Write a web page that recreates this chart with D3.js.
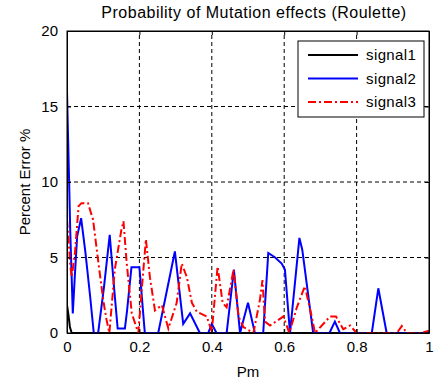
<!DOCTYPE html>
<html>
<head>
<meta charset="utf-8">
<script src="https://cdn.jsdelivr.net/npm/d3@7"></script>
<style>
	body { margin: 0; background: #fff; }
	text { font-family: "Liberation Sans", Arial, sans-serif; }
</style>
</head>
<body>
<div id="chart-area"></div>
<script>
// values
let xTicks = [0, 0.2, 0.4, 0.6, 0.8, 1];
let xTickLabels = ["0", "0.2", "0.4", "0.6", "0.8", "1"];
let yTicks = [0, 5, 10, 15, 20];
let seriesNames = ["signal1", "signal2", "signal3"];

let signal1Pm = [0, 0.004, 0.008, 0.013, 1];
let signal1Err = [1.85, 1.2, 0.4, 0, 0];

let signal2Pm = [0, 0.003, 0.006, 0.009, 0.012, 0.016, 0.021, 0.028, 0.039, 0.051,
	0.064, 0.074, 0.086, 0.102, 0.118, 0.13, 0.14, 0.16, 0.166, 0.178,
	0.2, 0.215, 0.252, 0.298, 0.321, 0.34, 0.367, 0.39, 0.40, 0.413,
	0.441, 0.461, 0.478, 0.50, 0.519, 0.542, 0.556, 0.575, 0.593, 0.602,
	0.616, 0.642, 0.65, 0.68, 0.725, 0.74, 0.754, 0.842, 0.86, 0.883, 1];
let signal2Err = [16, 12.9, 9.9, 6.7, 4.4, 1.3, 3.5, 6.4, 7.6, 5.3,
	2.4, 0, 0, 3, 6.5, 3, 0.3, 0.3, 1.5, 4.35,
	4.35, 0, 0, 5.4, 0.6, 1.3, 0, 0, 0.6, 0,
	0, 4.2, 0, 2.0, 0, 0, 5.3, 5.0, 4.6, 4.2,
	0, 6.3, 5.5, 0, 0, 0.75, 0, 0, 2.96, 0, 0];

let signal3Pm = [0, 0.004, 0.009, 0.013, 0.022, 0.032, 0.04, 0.058, 0.072, 0.086,
	0.1, 0.109, 0.117, 0.132, 0.15, 0.156, 0.165, 0.179, 0.197, 0.211,
	0.218, 0.229, 0.243, 0.262, 0.28, 0.303, 0.317, 0.331, 0.345, 0.359,
	0.386, 0.40, 0.416, 0.43, 0.441, 0.46, 0.474, 0.487, 0.515, 0.533,
	0.54, 0.547, 0.561, 0.598, 0.614, 0.635, 0.657, 0.676, 0.685, 0.727,
	0.743, 0.763, 0.782, 0.80, 0.911, 0.925, 0.939, 0.98, 1];
let signal3Err = [7.5, 6.3, 4.5, 3.7, 5.3, 8.4, 8.6, 8.6, 7.5, 4.8,
	2.2, 0.9, 0, 4.2, 6.8, 7.4, 4.6, 1.3, 0, 4.2,
	6.2, 3.7, 1.5, 1.85, 0.3, 2, 4.6, 3.7, 2.0, 1.4,
	1.1, 0.1, 4.4, 2.0, 1.7, 4.2, 1.1, 0.4, 0, 2.2,
	3.5, 0.75, 0.5, 1.1, 0, 1.7, 3.1, 1.1, 0, 1.1,
	1.1, 0.25, 0.5, 0, 0, 0.46, 0, 0, 0.15];

// SVG Size
let width = 435,
	height = 381;
let margin = {left: 67, right: 6, top: 31, bottom: 48};

let svg = d3.select("#chart-area")
	.append("svg")
	.attr("width", width)
	.attr("height", height);

let x = d3.scaleLinear().domain([0, 1]).range([margin.left, width - margin.right]);
let y = d3.scaleLinear().domain([0, 20]).range([height - margin.bottom, margin.top]);

let series = [
	{name: seriesNames[0], pm: signal1Pm, err: signal1Err, color: "#000000", dash: null},
	{name: seriesNames[1], pm: signal2Pm, err: signal2Err, color: "#0000ff", dash: null},
	{name: seriesNames[2], pm: signal3Pm, err: signal3Err, color: "#ff0000", dash: "8,3,2,3"}
];

// grid (dotted)
svg.append("g")
	.selectAll("line")
	.data(xTicks.slice(1, -1))
	.enter()
	.append("line")
	.attr("x1", d => x(d)).attr("x2", d => x(d))
	.attr("y1", y(0)).attr("y2", y(20))
	.attr("stroke", "black")
	.attr("stroke-dasharray", "4,3");
svg.append("g")
	.selectAll("line")
	.data(yTicks.slice(1, -1))
	.enter()
	.append("line")
	.attr("x1", x(0)).attr("x2", x(1))
	.attr("y1", d => y(d)).attr("y2", d => y(d))
	.attr("stroke", "black")
	.attr("stroke-dasharray", "4,3");

svg.append("clipPath")
	.attr("id", "plot-clip")
	.append("rect")
	.attr("x", x(0)).attr("y", y(20) - 2)
	.attr("width", x(1) - x(0)).attr("height", y(0) - y(20) + 2);

let line = d3.line()
	.x(d => x(d[0]))
	.y(d => y(d[1]));

svg.append("g")
	.attr("clip-path", "url(#plot-clip)")
	.selectAll("path")
	.data(series)
	.enter()
	.append("path")
	.attr("d", s => line(s.pm.map((p, i) => [p, s.err[i]])))
	.attr("fill", "none")
	.attr("stroke", s => s.color)
	.attr("stroke-width", 2)
	.attr("stroke-dasharray", s => s.dash);

// axes, ticks inside like matlab
let xAxis = d3.axisBottom(x).tickValues(xTicks).tickFormat((d, i) => xTickLabels[i])
	.tickSizeInner(-4).tickSizeOuter(0).tickPadding(8);
let yAxis = d3.axisLeft(y).tickValues(yTicks).tickSizeInner(-4).tickSizeOuter(0).tickPadding(9);

svg.append("g")
	.attr("class", "axis x-axis")
	.attr("transform", "translate(0," + y(0) + ")")
	.call(xAxis);
svg.append("g")
	.attr("class", "axis y-axis")
	.attr("transform", "translate(" + x(0) + ",0)")
	.call(yAxis);
svg.append("g")
	.attr("transform", "translate(0," + y(20) + ")")
	.call(d3.axisTop(x).tickValues(xTicks).tickFormat("").tickSizeInner(-4).tickSizeOuter(0));
svg.append("g")
	.attr("transform", "translate(" + x(1) + ",0)")
	.call(d3.axisRight(y).tickValues(yTicks).tickFormat("").tickSizeInner(-4).tickSizeOuter(0));

svg.selectAll(".axis text")
	.attr("font-size", 15)
	.attr("font-family", "Liberation Sans, Arial, sans-serif")
	.attr("fill", "black");
svg.selectAll(".domain, .tick line").attr("stroke", "black");

// box
svg.append("rect")
	.attr("x", x(0)).attr("y", y(20))
	.attr("width", x(1) - x(0)).attr("height", y(0) - y(20))
	.attr("fill", "none")
	.attr("stroke", "black");

// title and labels
svg.append("text")
	.attr("x", (x(0) + x(1)) / 2 + 6)
	.attr("y", 18)
	.attr("text-anchor", "middle")
	.attr("font-size", 16)
	.attr("letter-spacing", 0.5)
	.text("Probability of Mutation effects (Roulette)");
svg.append("text")
	.attr("x", (x(0) + x(1)) / 2)
	.attr("y", 377)
	.attr("text-anchor", "middle")
	.attr("font-size", 15)
	.text("Pm");
svg.append("text")
	.attr("transform", "translate(30," + (y(0) + y(20)) / 2 + ") rotate(-90)")
	.attr("text-anchor", "middle")
	.attr("font-size", 15)
	.text("Percent Error %");

// legend
let legend = svg.append("g").attr("transform", "translate(298,41)");
legend.append("rect")
	.attr("width", 126).attr("height", 76)
	.attr("fill", "white").attr("stroke", "black");
let entry = legend.selectAll(".entry")
	.data(series)
	.enter()
	.append("g")
	.attr("class", "entry")
	.attr("transform", (d, i) => "translate(0," + (14 + i * 23.5) + ")");
entry.append("line")
	.attr("x1", 10).attr("x2", 60)
	.attr("stroke", d => d.color)
	.attr("stroke-width", 2)
	.attr("stroke-dasharray", d => d.dash);
entry.append("text")
	.attr("x", 68).attr("y", 5)
	.attr("font-size", 15)
	.attr("letter-spacing", 0.4)
	.text(d => d.name);
</script>
</body>
</html>
